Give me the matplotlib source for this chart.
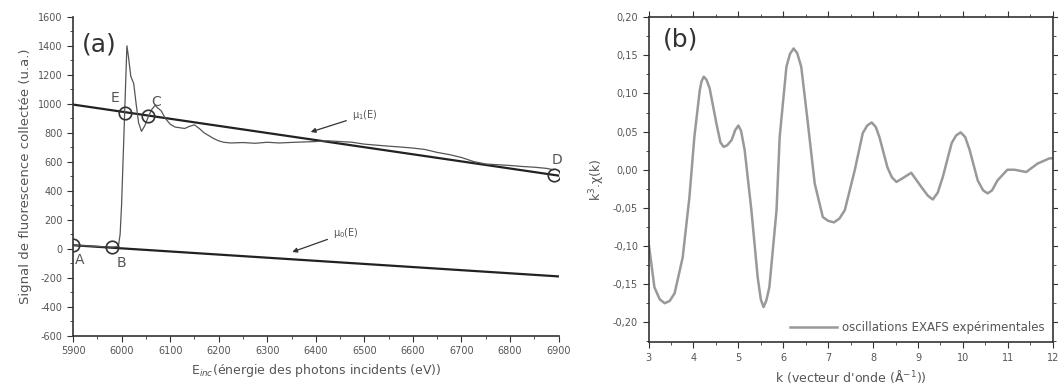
import matplotlib
matplotlib.use("Agg")
import matplotlib.pyplot as plt
from matplotlib.ticker import MultipleLocator, FuncFormatter

plt.rcParams["axes.unicode_minus"] = False

# panel (a): fluorescence signal vs incident energy
sig_E = [5900, 5920, 5940, 5960, 5980, 5990, 5994, 5997, 6000, 6003, 6006, 6009, 6011,
         6014, 6019, 6025, 6030, 6035, 6041, 6048, 6055, 6062, 6069, 6075, 6082, 6090,
         6100, 6110, 6120, 6130, 6140, 6150, 6160, 6170, 6180, 6190, 6200, 6210, 6225,
         6250, 6275, 6300, 6325, 6350, 6375, 6400, 6425, 6450, 6475, 6500, 6525, 6550,
         6575, 6600, 6625, 6650, 6675, 6700, 6725, 6750, 6775, 6800, 6825, 6850, 6875, 6890]
sig_I = [25, 22, 18, 15, 12, 15, 30, 100, 300, 600, 900, 1200, 1400,
         1330, 1190, 1140, 1000, 870, 810, 850, 910, 960, 990, 970, 950, 900,
         860, 840, 835, 830, 845, 855, 830, 800, 780, 760, 745, 735, 730,
         733, 728, 735, 730, 734, 737, 740, 745, 740, 735, 722, 715, 708,
         702, 695, 685, 665, 650, 630, 602, 585, 580, 575, 568, 563, 555, 545]

mu1_E = [5900, 6900]
mu1_I = [995, 505]
mu0_E = [5900, 6900]
mu0_I = [25, -190]

pts_name = ["A", "B", "E", "C", "D"]
pts_E = [5900, 5980, 6007, 6055, 6890]
pts_I = [25, 10, 940, 915, 512]
lbl_E = [5914, 5999, 5986, 6072, 6896]
lbl_I = [-76, -96, 1040, 1010, 614]

# panel (b): k^3 chi(k)
k = [3.00, 3.13, 3.25, 3.36, 3.47, 3.58, 3.76, 3.91, 4.02, 4.14, 4.18, 4.23, 4.29, 4.36,
     4.51, 4.60, 4.67, 4.75, 4.85, 4.93, 5.00, 5.06, 5.14, 5.29, 5.43, 5.50, 5.56, 5.62,
     5.69, 5.85, 5.92, 6.07, 6.15, 6.23, 6.31, 6.40, 6.54, 6.70, 6.88, 7.00, 7.13, 7.25,
     7.37, 7.59, 7.77, 7.87, 7.97, 8.06, 8.14, 8.32, 8.42, 8.52, 8.66, 8.85, 9.08, 9.22,
     9.33, 9.44, 9.55, 9.75, 9.85, 9.95, 10.05, 10.15, 10.33, 10.45, 10.55, 10.65, 10.77,
     10.99, 11.15, 11.41, 11.66, 11.93, 12.00]
chi = [-0.095, -0.154, -0.170, -0.175, -0.172, -0.162, -0.115, -0.036, 0.043, 0.104, 0.116,
       0.122, 0.118, 0.107, 0.061, 0.036, 0.030, 0.032, 0.039, 0.052, 0.058, 0.051, 0.026,
       -0.053, -0.141, -0.170, -0.180, -0.172, -0.154, -0.053, 0.043, 0.135, 0.152, 0.159,
       0.153, 0.135, 0.065, -0.018, -0.062, -0.067, -0.069, -0.064, -0.053, -0.001, 0.048,
       0.058, 0.062, 0.056, 0.043, 0.003, -0.010, -0.016, -0.011, -0.004, -0.023, -0.034,
       -0.039, -0.030, -0.010, 0.035, 0.045, 0.049, 0.043, 0.026, -0.014, -0.027, -0.031,
       -0.027, -0.014, 0.000, 0.000, -0.003, 0.008, 0.015, 0.015]

txt = "#555555"

fig = plt.figure(figsize=(10.58, 3.91), dpi=100)

ax = fig.add_axes([0.069, 0.141, 0.459, 0.816])
ax.plot(mu1_E, mu1_I, color="#222222", lw=1.6)
ax.plot(mu0_E, mu0_I, color="#222222", lw=1.6)
ax.plot(sig_E, sig_I, color="#555555", lw=0.9)
ax.plot(pts_E, pts_I, "o", ms=9, mfc="none", mec="#333333", mew=1.2)
for n, x, y in zip(pts_name, lbl_E, lbl_I):
    ax.text(x, y, n, fontsize=10, color=txt, ha="center", va="center")

ax.annotate("μ$_1$(E)", xy=(6384, 800), xytext=(6474, 924), fontsize=7, color=txt,
            va="center", arrowprops=dict(arrowstyle="-|>", color="#333333", lw=0.9))
ax.annotate("μ$_0$(E)", xy=(6346, -28), xytext=(6435, 110), fontsize=7, color=txt,
            va="center", arrowprops=dict(arrowstyle="-|>", color="#333333", lw=0.9))
ax.text(5918, 1407, "(a)", fontsize=18, color="#333333", va="center")

ax.set_xlim(5900, 6900)
ax.set_ylim(-600, 1600)
ax.xaxis.set_major_locator(MultipleLocator(100))
ax.xaxis.set_minor_locator(MultipleLocator(50))
ax.yaxis.set_major_locator(MultipleLocator(200))
ax.yaxis.set_minor_locator(MultipleLocator(100))
ax.spines["top"].set_visible(False)
ax.spines["right"].set_visible(False)
for s in ["left", "bottom"]:
    ax.spines[s].set_color("#333333")
    ax.spines[s].set_linewidth(1.2)
ax.tick_params(which="both", direction="out", colors="#333333", labelcolor=txt, labelsize=7)
ax.tick_params(which="major", length=4)
ax.tick_params(which="minor", length=2)
ax.set_xlabel("E$_{inc}$(énergie des photons incidents (eV))", fontsize=9, color=txt)
ax.set_ylabel("Signal de fluorescence collectée (u.a.)", fontsize=9.5, color=txt)

bx = fig.add_axes([0.613, 0.125, 0.382, 0.831])
bx.plot(k, chi, color="#999999", lw=1.8, label="oscillations EXAFS expérimentales")
bx.set_xlim(3, 12)
bx.set_ylim(-0.226, 0.20)
bx.xaxis.set_major_locator(MultipleLocator(1))
bx.xaxis.set_minor_locator(MultipleLocator(0.5))
bx.yaxis.set_major_locator(MultipleLocator(0.05))
bx.yaxis.set_minor_locator(MultipleLocator(0.025))
bx.yaxis.set_major_formatter(FuncFormatter(lambda v, p: f"{v:.2f}".replace(".", ",")))
for s in bx.spines.values():
    s.set_color("#333333")
    s.set_linewidth(1.2)
bx.tick_params(which="both", direction="out", colors="#333333", labelcolor=txt, labelsize=7,
               top=True, right=True)
bx.tick_params(which="major", length=4)
bx.tick_params(which="minor", length=2)
bx.text(0.035, 0.93, "(b)", transform=bx.transAxes, fontsize=18, color="#333333", va="center")
bx.legend(loc="lower right", frameon=False, fontsize=8.5, handlelength=4,
          borderaxespad=0.3, handletextpad=0.4, labelcolor=txt)
bx.set_xlabel("k (vecteur d'onde (Å$^{-1}$))", fontsize=9, color=txt)
bx.set_ylabel("k$^3$.χ(k)", fontsize=9, color=txt)

fig.savefig("out.png", dpi=100)
